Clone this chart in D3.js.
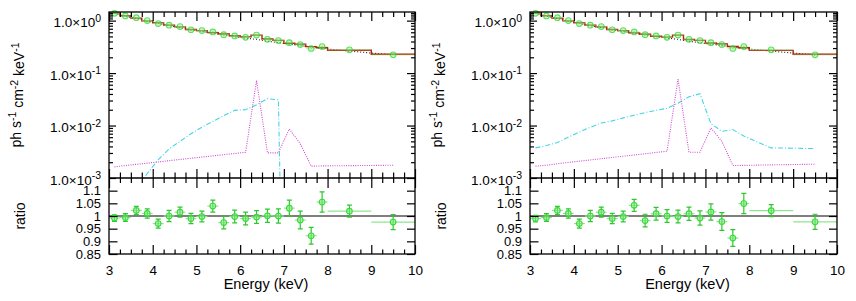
<!DOCTYPE html>
<html>
<head>
<meta charset="utf-8">
<script src="https://cdn.jsdelivr.net/npm/d3@7"></script>
<style>
  body { margin: 0; background: #fff; }
  svg { font-family: "Liberation Sans", Arial, Helvetica, sans-serif; }
</style>
</head>
<body>
<svg width="856" height="301"></svg>
<script>
/* global d3 */
// energy bins (keV)
const binLo = [3, 3.25, 3.5, 3.75, 4, 4.25, 4.5, 4.75, 5, 5.25, 5.5, 5.75, 6, 6.25, 6.5, 6.75, 7, 7.25, 7.5, 7.75, 8, 9]
const binHi = [3.25, 3.5, 3.75, 4, 4.25, 4.5, 4.75, 5, 5.25, 5.5, 5.75, 6, 6.25, 6.5, 6.75, 7, 7.25, 7.5, 7.75, 8, 9, 10]
const energy = [3.125, 3.375, 3.625, 3.875, 4.125, 4.375, 4.625, 4.875, 5.125, 5.375, 5.625, 5.875, 6.125, 6.375, 6.625, 6.875, 7.125, 7.375, 7.625, 7.875, 8.5, 9.5]

// unfolded data (ph s-1 cm-2 keV-1)
const flux = [1.38, 1.23, 1.14, 1.0, 0.88, 0.82, 0.77, 0.67, 0.645, 0.61, 0.54, 0.51, 0.48, 0.53, 0.44, 0.417, 0.38, 0.35, 0.294, 0.32, 0.277, 0.223]
const fluxErr = [0.018, 0.018, 0.018, 0.018, 0.016, 0.018, 0.015, 0.013, 0.013, 0.015, 0.013, 0.013, 0.012, 0.013, 0.011, 0.012, 0.012, 0.012, 0.01, 0.013, 0.007, 0.007]

// total models
const modelA = [1.39, 1.24, 1.115, 0.99, 0.905, 0.82, 0.76, 0.677, 0.646, 0.59, 0.555, 0.515, 0.49, 0.53, 0.445, 0.42, 0.37, 0.355, 0.32, 0.305, 0.272, 0.228]
const modelB = [1.39, 1.24, 1.115, 0.99, 0.905, 0.82, 0.76, 0.677, 0.646, 0.585, 0.55, 0.505, 0.485, 0.53, 0.438, 0.42, 0.375, 0.358, 0.322, 0.305, 0.271, 0.228]
// continuum component (dotted black)
const continuum = [1.37, 1.22, 1.10, 0.975, 0.885, 0.805, 0.74, 0.665, 0.625, 0.575, 0.535, 0.495, 0.465, 0.44, 0.405, 0.38, 0.355, 0.335, 0.315, 0.295, 0.262, 0.222]
// line components (magenta dotted)
const magentaA = [1.63e-3, 1.73e-3, 1.82e-3, 1.92e-3, 2.02e-3, 2.14e-3, 2.26e-3, 2.38e-3, 2.51e-3, 2.64e-3, 2.79e-3, 2.94e-3, 3.09e-3, 0.0723, 3.01e-3, 3.01e-3, 8.6e-3, 4.5e-3, 1.68e-3, 1.70e-3, 1.72e-3, 1.75e-3]
const magentaB = [1.68e-3, 1.75e-3, 1.87e-3, 1.98e-3, 2.09e-3, 2.21e-3, 2.33e-3, 2.47e-3, 2.6e-3, 2.75e-3, 2.9e-3, 3.07e-3, 3.23e-3, 0.0769, 3.09e-3, 3.09e-3, 9.0e-3, 5.0e-3, 1.73e-3, 1.74e-3, 1.78e-3, 1.83e-3]
// broad component (cyan dash-dot); tail of A falls far below the plot floor
const cyanA = [2e-4, 3.4e-4, 6.6e-4, 1.22e-3, 2.22e-3, 3.59e-3, 5.0e-3, 6.98e-3, 9.3e-3, 0.012, 0.0154, 0.0195, 0.020, 0.0248, 0.0325, 0.031, 1e-12, 1e-12, 1e-12, 1e-12, 1e-12, 1e-12]
const cyanB = [3.75e-3, 4.15e-3, 4.73e-3, 6.03e-3, 7.5e-3, 9.24e-3, 0.01116, 0.01228, 0.014, 0.0157, 0.01767, 0.01953, 0.0213, 0.0267, 0.0354, 0.0404, 0.01087, 7.76e-3, 8.36e-3, 6.3e-3, 3.75e-3, 3.64e-3]

// data / model ratio
const ratioA = [0.992, 0.994, 1.022, 1.010, 0.970, 1.000, 1.015, 0.990, 0.998, 1.039, 0.974, 0.998, 0.990, 0.996, 1.001, 1.000, 1.031, 0.984, 0.922, 1.055, 1.019, 0.976]
const ratioB = [0.990, 0.994, 1.022, 1.010, 0.970, 1.000, 1.015, 0.990, 0.998, 1.042, 0.982, 1.009, 1.000, 0.998, 1.009, 0.992, 1.016, 0.978, 0.913, 1.049, 1.021, 0.977]
const ratioErr = [0.013, 0.015, 0.016, 0.018, 0.018, 0.022, 0.02, 0.02, 0.021, 0.024, 0.025, 0.025, 0.025, 0.025, 0.026, 0.028, 0.032, 0.035, 0.033, 0.04, 0.024, 0.03]

const xTicks = [3, 4, 5, 6, 7, 8, 9, 10]
const logTicks = [1e-3, 1e-2, 1e-1, 1]
const ratioTicks = [0.85, 0.9, 0.95, 1, 1.05, 1.1]

const svg = d3.select('svg')
const yTop = 12
const yMid = 178
const yBot = 254
const green = '#36dc36'

const panels = [
  { x0: 109, x1: 415, model: modelA, magenta: magentaA, cyan: cyanA, ratio: ratioA },
  { x0: 530, x1: 837, model: modelB, magenta: magentaB, cyan: cyanB, ratio: ratioB }
]

panels.forEach((p, pi) => {
  const g = svg.append('g')
  const x = d3.scaleLinear().domain([3, 10]).range([p.x0, p.x1])
  const y = d3.scaleLog().domain([1e-3, 1.46]).range([yMid, yTop])
  const yr = d3.scaleLinear().domain([0.85, 1.15]).range([yBot, yMid])

  const minorX = d3.range(3, 10.001, 0.25).filter(v => !xTicks.includes(v))
  const minorLog = []
  logTicks.slice(0, 3).forEach(t => { for (let k = 2; k <= 9; k++) minorLog.push(t * k) })
  minorLog.push(1.1, 1.2, 1.3, 1.4)

  const clipId = 'clip' + pi
  svg.append('clipPath').attr('id', clipId)
    .append('rect').attr('x', p.x0).attr('y', yTop).attr('width', p.x1 - p.x0).attr('height', yMid - yTop)

  // components
  const line = vals => d3.line().x((d, i) => x(energy[i])).y(d => y(d))(vals)
  const comp = g.append('g').attr('clip-path', `url(#${clipId})`).attr('fill', 'none')
  comp.append('path').attr('d', line(p.cyan))
    .attr('stroke', '#45d4e8').attr('stroke-width', 1.1).attr('stroke-dasharray', '5,2,1,2')
  comp.append('path').attr('d', line(p.magenta))
    .attr('stroke', '#d24ad2').attr('stroke-width', 1.1).attr('stroke-dasharray', '1,1.3')
  comp.append('path').attr('d', line(continuum))
    .attr('stroke', '#222').attr('stroke-width', 1.1).attr('stroke-dasharray', '1,2')

  // model step
  const step = []
  p.model.forEach((v, i) => { step.push([binLo[i], v]); step.push([binHi[i], v]) })
  g.append('path')
    .attr('d', d3.line().x(d => x(d[0])).y(d => y(d[1]))(step))
    .attr('fill', 'none').attr('stroke', '#b01e00').attr('stroke-width', 1.4)

  // data in the top panel, drawn over the model
  const dat = g.append('g').attr('opacity', 0.8)
  dat.selectAll('.hx').data(flux).join('line')
    .attr('x1', (d, i) => x(binLo[i])).attr('x2', (d, i) => x(binHi[i]))
    .attr('y1', d => y(d)).attr('y2', d => y(d))
    .attr('stroke', '#8ee88e').attr('stroke-width', 1.2).attr('opacity', 0.6)
  dat.selectAll('.vy').data(flux).join('line')
    .attr('x1', (d, i) => x(energy[i])).attr('x2', (d, i) => x(energy[i]))
    .attr('y1', (d, i) => y(d - fluxErr[i])).attr('y2', (d, i) => y(d + fluxErr[i]))
    .attr('stroke', green).attr('stroke-width', 1.2)
  dat.selectAll('circle').data(flux).join('circle')
    .attr('cx', (d, i) => x(energy[i])).attr('cy', d => y(d)).attr('r', 2.8)
    .attr('fill', 'rgba(140,235,140,0.5)').attr('stroke', green).attr('stroke-width', 1.1)

  // ratio panel
  g.append('line').attr('x1', p.x0).attr('x2', p.x1).attr('y1', yr(1)).attr('y2', yr(1))
    .attr('stroke', '#000').attr('stroke-width', 1.2)
  const rg = g.append('g')
  rg.selectAll('.hx').data(p.ratio).join('line')
    .attr('x1', (d, i) => x(binLo[i])).attr('x2', (d, i) => x(binHi[i]))
    .attr('y1', d => yr(d)).attr('y2', d => yr(d))
    .attr('stroke', '#8fe58f').attr('stroke-width', 1.2)
  rg.selectAll('.vy').data(p.ratio).join('path')
    .attr('d', (d, i) => {
      const cx = x(energy[i])
      const ya = yr(d - ratioErr[i])
      const yb = yr(d + ratioErr[i])
      return `M${cx},${ya}V${yb}M${cx - 2.5},${ya}H${cx + 2.5}M${cx - 2.5},${yb}H${cx + 2.5}`
    })
    .attr('fill', 'none').attr('stroke', '#2ec72e').attr('stroke-width', 1.2)
  rg.selectAll('circle').data(p.ratio).join('circle')
    .attr('cx', (d, i) => x(energy[i])).attr('cy', d => yr(d)).attr('r', 2.8)
    .attr('fill', 'rgba(140,235,140,0.5)').attr('stroke', green).attr('stroke-width', 1.1)

  // axes
  const ax = g.append('g').attr('font-size', '13.5px')
  const put = (axis, tx, ty) => {
    const s = ax.append('g').attr('transform', `translate(${tx},${ty})`).call(axis)
    s.select('.domain').remove()
    s.selectAll('.tick line').attr('stroke-width', 1.2)
    s.attr('font-family', null).attr('font-size', null)
    return s
  }
  const noLab = () => ''
  // x ticks
  put(d3.axisTop(x).tickValues(xTicks).tickSize(-9).tickFormat(noLab), 0, yTop)
  put(d3.axisTop(x).tickValues(minorX).tickSize(-5).tickFormat(noLab), 0, yTop)
  put(d3.axisBottom(x).tickValues(xTicks).tickSize(-9).tickFormat(noLab), 0, yMid)
  put(d3.axisBottom(x).tickValues(minorX).tickSize(-5.5).tickFormat(noLab), 0, yMid)
  put(d3.axisTop(x).tickValues(xTicks).tickSize(-10).tickFormat(noLab), 0, yMid)
  put(d3.axisTop(x).tickValues(minorX).tickSize(-5).tickFormat(noLab), 0, yMid)
  put(d3.axisBottom(x).tickValues(minorX).tickSize(-4.5).tickFormat(noLab), 0, yBot)
  put(d3.axisBottom(x).tickValues(xTicks).tickSize(-9).tickPadding(11).tickFormat(d3.format('d')), 0, yBot)

  // log y ticks
  const ly = put(d3.axisLeft(y).tickValues(logTicks).tickSize(-7).tickPadding(8), p.x0, 0)
  ly.selectAll('.tick text').attr('dy', '0.45em').each(function (d) {
    const t = d3.select(this).text('')
    t.append('tspan').text('1.0×10')
    t.append('tspan').attr('dy', '-0.5em').attr('font-size', '10.5px').text(Math.round(Math.log10(d)))
  })
  put(d3.axisLeft(y).tickValues(minorLog).tickSize(-4).tickFormat(noLab), p.x0, 0)
  put(d3.axisRight(y).tickValues(logTicks).tickSize(-8).tickFormat(noLab), p.x1, 0)
  put(d3.axisRight(y).tickValues(minorLog).tickSize(-4).tickFormat(noLab), p.x1, 0)

  // ratio y ticks
  put(d3.axisLeft(yr).tickValues(ratioTicks).tickSize(-8.5).tickPadding(8)
    .tickFormat(d => String(+d.toFixed(2))), p.x0, 0)
    .selectAll('.tick text').attr('font-size', '13px')
  put(d3.axisRight(yr).tickValues(ratioTicks).tickSize(-8).tickFormat(noLab), p.x1, 0)

  // frames
  g.append('rect').attr('x', p.x0).attr('y', yTop).attr('width', p.x1 - p.x0).attr('height', yBot - yTop)
    .attr('fill', 'none').attr('stroke', '#000').attr('stroke-width', 1.3)
  g.append('line').attr('x1', p.x0).attr('x2', p.x1).attr('y1', yMid).attr('y2', yMid)
    .attr('stroke', '#000').attr('stroke-width', 1.3)

  // titles
  const yt = g.append('text').attr('font-size', '14px').attr('text-anchor', 'middle')
    .attr('transform', `translate(${p.x0 - 88},95) rotate(-90)`)
  const parts = [['ph s', 0], ['-1', 1], [' cm', 0], ['-2', 1], [' keV', 0], ['-1', 1]]
  let up = false
  parts.forEach(([s, sup]) => {
    const ts = yt.append('tspan').text(s)
    if (sup) { ts.attr('dy', '-0.45em').attr('font-size', '10.5px'); up = true } else if (up) { ts.attr('dy', '0.45em'); up = false }
  })
  g.append('text').attr('font-size', '14px').attr('text-anchor', 'middle')
    .attr('transform', `translate(${p.x0 - 84},216) rotate(-90)`).text('ratio')
  g.append('text').attr('font-size', '14.5px').attr('text-anchor', 'middle')
    .attr('x', (p.x0 + p.x1) / 2 + 4).attr('y', 289).text('Energy (keV)')
})
</script>
</body>
</html>
